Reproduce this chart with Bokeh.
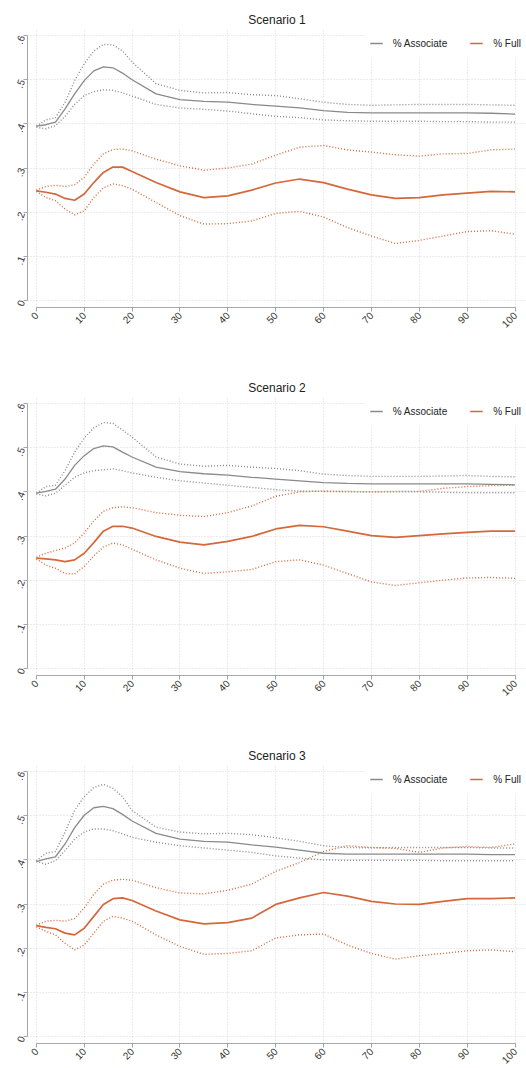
import math
from bokeh.plotting import figure
from bokeh.layouts import column
from bokeh.models import FixedTicker, Legend, LegendItem, Range1d
from bokeh.embed import file_html
from bokeh.resources import INLINE

x_vals = [0, 2, 4, 6, 8, 10, 12, 14, 16, 18, 20, 25, 30, 35, 40, 45, 50,
          55, 60, 65, 70, 75, 80, 85, 90, 95, 100]

titles = ["Scenario 1", "Scenario 2", "Scenario 3"]
series_names = ["% Associate", "% Full"]

x_ticks = [0, 10, 20, 30, 40, 50, 60, 70, 80, 90, 100]
y_ticks = [0, 0.1, 0.2, 0.3, 0.4, 0.5, 0.6]
y_tick_labels = ["0", ".1", ".2", ".3", ".4", ".5", ".6"]

# Scenario 1
s1_assoc = [0.395, 0.398, 0.404, 0.434, 0.468, 0.498, 0.520, 0.529, 0.527, 0.515, 0.500, 0.468, 0.455, 0.451,
            0.449, 0.444, 0.440, 0.436, 0.430, 0.426, 0.425, 0.425, 0.425, 0.425, 0.425, 0.424, 0.422]
s1_assoc_hi = [0.395, 0.409, 0.414, 0.449, 0.498, 0.536, 0.565, 0.580, 0.579, 0.565, 0.540, 0.491, 0.476, 0.470,
               0.471, 0.466, 0.464, 0.457, 0.449, 0.444, 0.442, 0.443, 0.444, 0.444, 0.444, 0.443, 0.442]
s1_assoc_lo = [0.392, 0.389, 0.396, 0.417, 0.444, 0.464, 0.473, 0.477, 0.476, 0.470, 0.463, 0.444, 0.436, 0.433,
               0.429, 0.423, 0.417, 0.414, 0.409, 0.407, 0.406, 0.406, 0.406, 0.405, 0.405, 0.404, 0.404]
s1_full = [0.248, 0.245, 0.241, 0.231, 0.227, 0.241, 0.267, 0.290, 0.302, 0.302, 0.292, 0.267, 0.246, 0.233,
           0.237, 0.250, 0.266, 0.275, 0.267, 0.252, 0.239, 0.231, 0.233, 0.239, 0.243, 0.247, 0.246]
s1_full_hi = [0.250, 0.258, 0.261, 0.258, 0.262, 0.279, 0.309, 0.332, 0.342, 0.343, 0.339, 0.320, 0.305, 0.295,
              0.300, 0.309, 0.329, 0.347, 0.351, 0.341, 0.336, 0.330, 0.327, 0.332, 0.333, 0.341, 0.343]
s1_full_lo = [0.247, 0.233, 0.226, 0.207, 0.194, 0.203, 0.233, 0.255, 0.264, 0.260, 0.252, 0.222, 0.192, 0.173,
              0.174, 0.180, 0.197, 0.202, 0.189, 0.165, 0.146, 0.129, 0.136, 0.146, 0.156, 0.158, 0.150]

# Scenario 2
s2_assoc = [0.397, 0.401, 0.406, 0.429, 0.460, 0.482, 0.498, 0.504, 0.502, 0.490, 0.479, 0.456, 0.446, 0.441,
            0.438, 0.433, 0.429, 0.425, 0.421, 0.419, 0.418, 0.418, 0.418, 0.418, 0.418, 0.417, 0.416]
s2_assoc_hi = [0.397, 0.412, 0.415, 0.448, 0.490, 0.522, 0.545, 0.557, 0.555, 0.540, 0.524, 0.479, 0.463, 0.458,
               0.460, 0.456, 0.453, 0.448, 0.440, 0.437, 0.435, 0.435, 0.435, 0.436, 0.437, 0.435, 0.434]
s2_assoc_lo = [0.395, 0.391, 0.397, 0.415, 0.433, 0.443, 0.448, 0.450, 0.452, 0.448, 0.443, 0.433, 0.425, 0.420,
               0.415, 0.410, 0.405, 0.402, 0.401, 0.400, 0.400, 0.400, 0.400, 0.399, 0.398, 0.398, 0.398]
s2_full = [0.250, 0.248, 0.246, 0.242, 0.246, 0.261, 0.285, 0.311, 0.322, 0.322, 0.318, 0.299, 0.286, 0.280,
           0.288, 0.299, 0.316, 0.324, 0.321, 0.311, 0.301, 0.297, 0.301, 0.305, 0.308, 0.311, 0.311]
s2_full_hi = [0.252, 0.261, 0.267, 0.273, 0.284, 0.307, 0.334, 0.356, 0.364, 0.366, 0.364, 0.353, 0.347, 0.344,
              0.353, 0.368, 0.390, 0.400, 0.402, 0.401, 0.400, 0.401, 0.401, 0.408, 0.412, 0.414, 0.415]
s2_full_lo = [0.248, 0.234, 0.227, 0.215, 0.214, 0.231, 0.255, 0.275, 0.284, 0.280, 0.270, 0.246, 0.227, 0.215,
              0.219, 0.224, 0.242, 0.246, 0.234, 0.215, 0.196, 0.188, 0.194, 0.200, 0.205, 0.206, 0.204]

# Scenario 3
s3_assoc = [0.396, 0.402, 0.407, 0.436, 0.473, 0.501, 0.518, 0.521, 0.516, 0.503, 0.488, 0.460, 0.447, 0.442,
            0.440, 0.434, 0.429, 0.422, 0.415, 0.413, 0.413, 0.413, 0.413, 0.413, 0.413, 0.412, 0.412]
s3_assoc_hi = [0.398, 0.415, 0.419, 0.463, 0.512, 0.543, 0.564, 0.571, 0.562, 0.543, 0.512, 0.474, 0.463, 0.459,
               0.460, 0.457, 0.450, 0.442, 0.432, 0.428, 0.427, 0.428, 0.428, 0.428, 0.428, 0.427, 0.427]
s3_assoc_lo = [0.396, 0.390, 0.398, 0.421, 0.447, 0.463, 0.470, 0.470, 0.466, 0.459, 0.451, 0.440, 0.432, 0.427,
               0.422, 0.417, 0.409, 0.404, 0.400, 0.399, 0.399, 0.399, 0.399, 0.398, 0.398, 0.398, 0.398]
s3_full = [0.251, 0.247, 0.244, 0.234, 0.230, 0.245, 0.272, 0.299, 0.312, 0.314, 0.308, 0.284, 0.264, 0.255,
           0.258, 0.268, 0.299, 0.314, 0.326, 0.318, 0.306, 0.300, 0.299, 0.306, 0.312, 0.312, 0.314]
s3_full_hi = [0.252, 0.261, 0.263, 0.261, 0.267, 0.291, 0.322, 0.345, 0.354, 0.356, 0.354, 0.337, 0.325, 0.323,
              0.331, 0.345, 0.374, 0.394, 0.419, 0.432, 0.428, 0.426, 0.417, 0.427, 0.430, 0.428, 0.436]
s3_full_lo = [0.248, 0.238, 0.230, 0.211, 0.196, 0.207, 0.234, 0.261, 0.272, 0.268, 0.261, 0.230, 0.204, 0.186,
              0.188, 0.194, 0.223, 0.230, 0.232, 0.207, 0.188, 0.175, 0.183, 0.188, 0.194, 0.196, 0.192]

scenarios = [
    (s1_assoc, s1_assoc_hi, s1_assoc_lo, s1_full, s1_full_hi, s1_full_lo),
    (s2_assoc, s2_assoc_hi, s2_assoc_lo, s2_full, s2_full_hi, s2_full_lo),
    (s3_assoc, s3_assoc_hi, s3_assoc_lo, s3_full, s3_full_hi, s3_full_lo),
]

GREY = "#8a8a8a"
ORANGE = "#d4683a"
FONT = "Liberation Sans"

bottoms = [61, 61, 25]

figs = []
for i, (title, data) in enumerate(zip(titles, scenarios)):
    a, a_hi, a_lo, f, f_hi, f_lo = data
    p = figure(frame_width=499, frame_height=279,
               x_range=Range1d(-1.85, 102.4), y_range=Range1d(-0.016, 0.616),
               output_backend="svg", toolbar_location=None,
               min_border_left=27, min_border_right=0, min_border_top=28,
               min_border_bottom=bottoms[i],
               background_fill_color="white", border_fill_color="white",
               outline_line_color=None)
    p.title.text = title
    p.title.align = "center"
    p.title.text_font = FONT
    p.title.text_font_size = "12px"
    p.title.text_font_style = "normal"
    p.title.text_color = "#222222"
    p.title.standoff = 3

    for ax in (p.xaxis[0], p.yaxis[0]):
        ax.axis_line_color = "#a6a6a6"
        ax.axis_line_width = 1
        ax.major_tick_line_color = "#a6a6a6"
        ax.major_tick_out = 4
        ax.major_tick_in = 0
        ax.minor_tick_line_color = None
        ax.major_label_text_font = FONT
        ax.major_label_text_font_size = "10px"
        ax.major_label_text_color = "#333333"
        ax.major_label_standoff = 2

    p.xaxis[0].ticker = FixedTicker(ticks=x_ticks)
    p.xaxis[0].bounds = (0, 100)
    p.xaxis[0].major_label_orientation = math.pi / 4
    p.yaxis[0].ticker = FixedTicker(ticks=y_ticks)
    p.yaxis[0].bounds = (0, 0.6)
    p.yaxis[0].major_label_overrides = {t: lab for t, lab in zip(y_ticks, y_tick_labels)}
    p.yaxis[0].major_label_orientation = 1.2

    p.xgrid.ticker = FixedTicker(ticks=x_ticks)
    p.ygrid.ticker = FixedTicker(ticks=y_ticks)
    for g in (p.xgrid[0], p.ygrid[0]):
        g.grid_line_color = "#d9d9d9"
        g.grid_line_dash = "1 2"
        g.grid_line_width = 1

    p.line(x_vals, a_hi, line_color=GREY, line_width=1.4, line_dash="1 2")
    p.line(x_vals, a_lo, line_color=GREY, line_width=1.4, line_dash="1 2")
    p.line(x_vals, f_hi, line_color=ORANGE, line_width=1.4, line_dash="1 2")
    p.line(x_vals, f_lo, line_color=ORANGE, line_width=1.4, line_dash="1 2")
    ra = p.line(x_vals, a, line_color=GREY, line_width=1.3)
    rf = p.line(x_vals, f, line_color=ORANGE, line_width=1.7)

    legend = Legend(items=[LegendItem(label=series_names[0], renderers=[ra]),
                           LegendItem(label=series_names[1], renderers=[rf])],
                    location="top_right", orientation="horizontal",
                    background_fill_color="white", background_fill_alpha=1,
                    border_line_alpha=0, margin=0, padding=5, spacing=23,
                    glyph_width=13, label_standoff=10,
                    label_text_font=FONT, label_text_font_size="10px",
                    label_text_color="#222222")
    p.add_layout(legend, "center")
    figs.append(p)

layout = column(*figs, spacing=0)
open("out.html", "w").write(file_html(layout, INLINE))
